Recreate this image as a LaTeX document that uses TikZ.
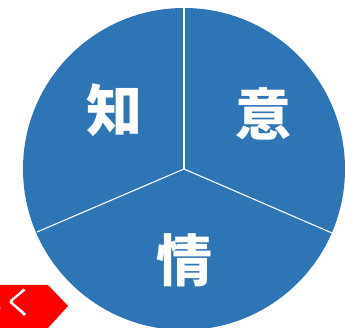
\documentclass[tikz,border=0pt]{standalone}
\usepackage{fontspec}
\usetikzlibrary{calc}
\newfontfamily\cjk{Noto Sans CJK JP}
\definecolor{pieblue}{HTML}{2E75B6}
\definecolor{tagred}{HTML}{FF0000}
\begin{document}
\begin{tikzpicture}[x=1pt,y=-1pt,
  label/.style={text=white,font=\cjk\bfseries\fontsize{56}{56}\selectfont,inner sep=0pt},
  divider/.style={draw=white,line width=1.1pt}]
\useasboundingbox (0,0) rectangle (345,328);
\begin{scope}
\clip (0,0) rectangle (345,328);
\coordinate (c) at (184,169);
\fill[pieblue] (c) circle[radius=161];
\coordinate (top) at (184,8);
\coordinate (left) at (37,232);
\coordinate (right) at (332,233);
\draw[divider] (c) -- (top);
\draw[divider] (c) -- (left);
\draw[divider] (c) -- (right);
\node[label] (chi) at (114,110) {知};
\node[label] (i) at (263,114) {意};
\node[label] (jo) at (184,260) {情};
\fill[tagred] (0,285) -- (48,285) -- (68,306) -- (48,328) -- (0,328) -- cycle;
\node[text=white,font=\cjk\fontsize{32}{32}\selectfont,inner sep=0pt,anchor=east] (tag) at (36,303) {いく};
\end{scope}
\end{tikzpicture}
\end{document}
